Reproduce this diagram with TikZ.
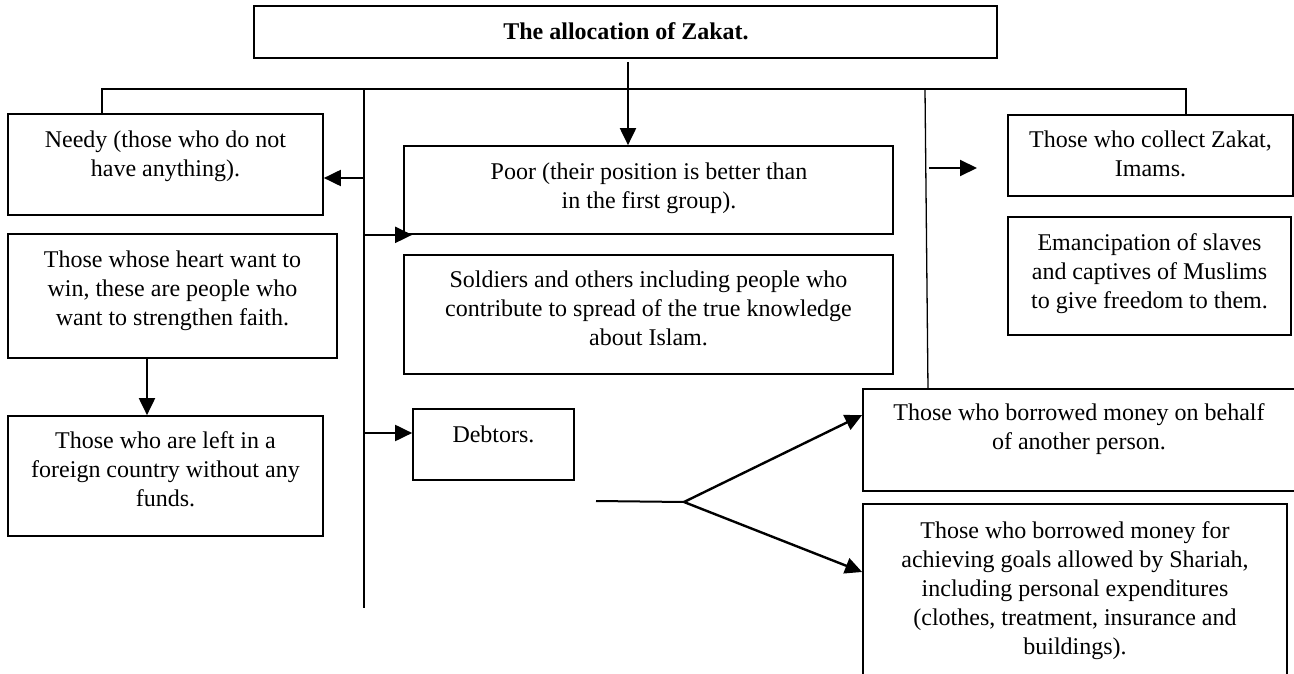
\documentclass[tikz,border=0pt]{standalone}
\usepackage{fontspec}
\setmainfont{Liberation Serif}
\usetikzlibrary{arrows.meta,fit,calc}
\tikzset{
  box/.style={draw=black, line width=1.7pt, inner sep=0pt, rectangle},
  txt/.style={font=\fontsize{24}{29}\selectfont, align=center, inner sep=0pt, anchor=north},
  conn/.style={draw=black, line width=1.3pt},
  arr/.style={draw=black, line width=2pt, -{Triangle[length=17pt,width=16pt]}}
}
\begin{document}
\begin{tikzpicture}[x=1pt,y=-1pt]
\clip (0,0) rectangle (1294,674);
\useasboundingbox (0,0) rectangle (1294,674);
% boxes
\node[box, fit={(254,6)(997,58)}] (title) {};
\node[box, fit={(8,114)(323,215)}] (needy) {};
\node[box, fit={(404,146)(893,234)}] (poor) {};
\node[box, fit={(8,234)(337,358)}] (heart) {};
\node[box, fit={(404,255)(893,374)}] (soldiers) {};
\node[box, fit={(8,416)(323,536)}] (left) {};
\node[box, fit={(413,409)(574,480)}] (debtors) {};
\node[box, fit={(1008,115)(1293,196)}] (collect) {};
\node[box, fit={(1008,217)(1291,335)}] (eman) {};
\node[box, fit={(863,389)(1300,491)}] (behalf) {};
\node[box, fit={(863,504)(1287,700)}] (borrow) {};
% texts
\node[txt] (titleT) at (626,18.7) {\strut\textbf{The allocation of Zakat.}};
\node[txt] (needyT) at (165.5,126.7) {\strut Needy (those who do not\\have anything).};
\node[txt] (poorT) at (649,158.7) {\strut Poor (their position is better than\\in the first group).};
\node[txt] (heartT) at (172.5,246.7) {\strut Those whose heart want to\\win, these are people who\\want to strengthen faith.};
\node[txt] (soldiersT) at (648.5,266.7) {\strut Soldiers and others including people who\\contribute to spread of the true knowledge\\about Islam.};
\node[txt] (leftT) at (165.5,427.7) {\strut Those who are left in a\\foreign country without any\\funds.};
\node[txt] (debtorsT) at (493.5,421.7) {\strut Debtors.};
\node[txt] (collectT) at (1150.5,126.7) {\strut Those who collect Zakat,\\Imams.};
\node[txt] (emanT) at (1149.5,229.7) {\strut Emancipation of slaves\\and captives of Muslims\\to give freedom to them.};
\node[txt] (behalfT) at (1079,399.7) {\strut Those who borrowed money on behalf\\of another person.};
\node[txt] (borrowT) at (1075,517.7) {\strut Those who borrowed money for\\achieving goals allowed by Shariah,\\including personal expenditures\\(clothes, treatment, insurance and\\buildings).};
% coordinates
\coordinate (t0) at (628,62);
\coordinate (busL) at (102,89);
\coordinate (busR) at (1186,89);
\coordinate (vL) at (364,89);
\coordinate (vLb) at (364,608);
\coordinate (vR) at (925,89);
\coordinate (vRb) at (928,389);
\coordinate (c0) at (929,168);
\coordinate (c1) at (977,168);
\coordinate (d0) at (596,501);
\coordinate (d1) at (684,502);
% connectors
\draw[arr] (t0) -- (t0 |- poor.north);
\draw[conn] (needy.north -| busL) -- (busL) -- (busR) -- (collect.north -| busR);
\draw[conn] (vL) -- (vLb);
\draw[conn] (vR) -- (vRb);
\draw[arr] (vL |- 0,178) -- (needy.east |- 0,178);
\draw[arr] (vL |- poor.south) -- ($(poor.south west)+(9,0)$);
\draw[arr] (vL |- 0,433) -- (debtors.west |- 0,433);
\draw[arr] (heart.south -| 147,0) -- (left.north -| 147,0);
\draw[arr] (c0) -- (c1);
\draw[conn, line width=2pt] (d0) -- (d1);
\draw[arr, line width=2.4pt] (d1) -- (behalf.west |- 0,415);
\draw[arr, line width=2.4pt] (d1) -- (borrow.west |- 0,572);
\end{tikzpicture}
\end{document}
